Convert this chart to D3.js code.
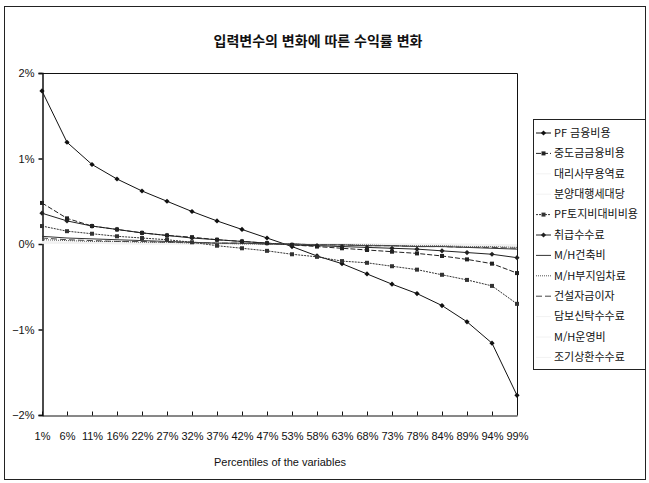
<!DOCTYPE html>
<html lang="ko">
<head>
<meta charset="UTF-8" />
<title>수익률 변화</title>
<style>
  body { margin: 0; background: #fff; }
  .chart text { fill: #111; }
</style>
</head>
<body>
<div class="chart"></div>
<script src="https://d3js.org/d3.v7.min.js"></script>
<script>
// 퍼센타일 (x 축)
const percentiles = ['1%','6%','11%','16%','22%','27%','32%','37%','42%','47%','53%','58%','63%','68%','73%','78%','84%','89%','94%','99%']
const yTicks = [0.02, 0.01, 0, -0.01, -0.02]

// 시리즈 이름
const seriesNames = ['PF 금융비용','중도금금융비용','대리사무용역료','분양대행세대당','PF토지비대비비용','취급수수료','M/H건축비','M/H부지임차료','건설자금이자','담보신탁수수료','M/H운영비','조기상환수수료']

// 값 (% 단위)
const pfFinance   = [1.79,1.19,0.93,0.76,0.62,0.50,0.38,0.27,0.17,0.07,-0.03,-0.14,-0.23,-0.35,-0.47,-0.58,-0.72,-0.91,-1.16,-1.77]
const midFinance  = [0.48,0.30,0.21,0.17,0.13,0.10,0.08,0.05,0.03,0.01,-0.01,-0.03,-0.05,-0.07,-0.09,-0.11,-0.14,-0.18,-0.23,-0.34]
const agentFee    = [0.02,0.02,0.01,0.01,0.01,0.01,0.00,0.00,0.00,0.00,0.00,0.00,0.00,0.00,-0.01,-0.01,-0.01,-0.01,-0.02,-0.02]
const salesAgent  = [0.03,0.02,0.02,0.01,0.01,0.01,0.01,0.00,0.00,0.00,0.00,0.00,-0.01,-0.01,-0.01,-0.01,-0.02,-0.02,-0.02,-0.03]
const pfLand      = [0.21,0.15,0.12,0.09,0.07,0.05,0.02,-0.02,-0.05,-0.08,-0.12,-0.15,-0.20,-0.22,-0.26,-0.30,-0.36,-0.42,-0.49,-0.70]
const handlingFee = [0.36,0.27,0.21,0.17,0.13,0.10,0.07,0.05,0.03,0.01,-0.01,-0.02,-0.03,-0.04,-0.05,-0.06,-0.08,-0.10,-0.12,-0.16]
const mhBuild     = [0.09,0.07,0.06,0.05,0.04,0.03,0.02,0.01,0.01,0.00,0.00,-0.01,-0.01,-0.02,-0.02,-0.03,-0.03,-0.04,-0.05,-0.06]
const mhLease     = [0.05,0.04,0.03,0.03,0.02,0.02,0.01,0.01,0.00,0.00,0.00,-0.01,-0.01,-0.01,-0.02,-0.02,-0.02,-0.03,-0.03,-0.04]
const constInt    = [0.07,0.05,0.04,0.03,0.03,0.02,0.02,0.01,0.01,0.00,0.00,-0.01,-0.01,-0.02,-0.02,-0.03,-0.03,-0.04,-0.04,-0.05]
const trustFee    = [0.01,0.01,0.01,0.01,0.00,0.00,0.00,0.00,0.00,0.00,0.00,0.00,0.00,0.00,0.00,0.00,0.00,-0.01,-0.01,-0.01]
const mhOperate   = [0.02,0.02,0.01,0.01,0.01,0.01,0.00,0.00,0.00,0.00,0.00,0.00,0.00,0.00,-0.01,-0.01,-0.01,-0.01,-0.01,-0.02]
const earlyRepay  = [0.01,0.01,0.01,0.00,0.00,0.00,0.00,0.00,0.00,0.00,0.00,0.00,0.00,0.00,0.00,0.00,0.00,0.00,-0.01,-0.01]

const seriesValues = [pfFinance, midFinance, agentFee, salesAgent, pfLand, handlingFee, mhBuild, mhLease, constInt, trustFee, mhOperate, earlyRepay]

// 선 스타일
const faint = '#f2f2f2'
const styles = [
  { color: '#111', dash: null,  marker: 'diamond' },
  { color: '#222', dash: '5,2', marker: 'square' },
  { color: faint, dash: null, marker: null },
  { color: faint, dash: null, marker: null },
  { color: '#333', dash: '2,1', marker: 'square' },
  { color: '#222', dash: null,  marker: 'diamond' },
  { color: '#333', dash: null,  marker: null },
  { color: '#555', dash: '1,1', marker: null },
  { color: '#444', dash: '6,3', marker: null },
  { color: faint, dash: null, marker: null },
  { color: faint, dash: null, marker: null },
  { color: faint, dash: null, marker: null }
]

const width = 649, height = 483
const plotLeft = 42, plotRight = 517, plotTop = 73, plotBottom = 415

const svg = d3.select('.chart').append('svg')
  .attr('width', width).attr('height', height)
  .style('font-family', '"Liberation Sans Narrow", "Liberation Sans", Arial, sans-serif')

// 바깥 테두리
svg.append('rect')
  .attr('x', 4.5).attr('y', 6.5).attr('width', 641).attr('height', 473)
  .attr('fill', 'none').attr('stroke', '#222').attr('stroke-width', 1)

// 제목
svg.append('text')
  .attr('x', 318).attr('y', 46)
  .attr('text-anchor', 'middle')
  .style('font-family', '"Noto Sans CJK KR", sans-serif')
  .style('font-size', '14px').style('font-weight', 'bold')
  .text('입력변수의 변화에 따른 수익률 변화')

const xScale = d3.scalePoint().domain(percentiles).range([plotLeft, plotRight])
const yScale = d3.scaleLinear().domain([-0.02, 0.02]).range([plotBottom, plotTop])

// 플롯 테두리 (위, 오른쪽)
svg.append('path')
  .attr('d', `M${plotLeft},${plotTop + 0.5}H${plotRight + 0.5}V${plotBottom}`)
  .attr('fill', 'none').attr('stroke', '#111')

// x 축
const xAxis = d3.axisBottom(xScale).tickSizeInner(-4).tickSizeOuter(0).tickPadding(17)
svg.append('g')
  .attr('transform', `translate(0, ${plotBottom + 0.5})`)
  .call(xAxis)
  .call(g => g.selectAll('text').style('font-size', '11px').attr('fill', '#111'))
  .call(g => g.selectAll('line, path').attr('stroke', '#111'))

// y 축
const yAxis = d3.axisLeft(yScale).tickValues(yTicks).tickFormat(d3.format('.0%')).tickSize(4).tickPadding(4)
svg.append('g')
  .attr('transform', `translate(${plotLeft + 0.5}, 0)`)
  .call(yAxis)
  .call(g => g.selectAll('text').style('font-size', '11px').attr('fill', '#111'))
  .call(g => g.selectAll('line, path').attr('stroke', '#111').attr('stroke-width', 1.5))

// 선
const line = d3.line()
  .x((d, i) => xScale(percentiles[i]))
  .y(d => yScale(d / 100))

const series = seriesNames.map((name, i) => ({ name, values: seriesValues[i], style: styles[i] }))

// 흐린 선을 먼저
const order = series.filter(s => s.style.color === faint).concat(series.filter(s => s.style.color !== faint))

const lines = svg.append('g')
order.forEach(s => {
  lines.append('path')
    .datum(s.values)
    .attr('d', line)
    .attr('fill', 'none')
    .attr('stroke', s.style.color)
    .attr('stroke-width', 1)
    .attr('stroke-dasharray', s.style.dash)
})

const drawMarker = (g, type, x, y, color) => {
  if (type === 'diamond') {
    g.append('path')
      .attr('d', `M${x},${y - 2.6}L${x + 2.6},${y}L${x},${y + 2.6}L${x - 2.6},${y}Z`)
      .attr('fill', color)
  } else if (type === 'square') {
    g.append('rect')
      .attr('x', x - 2).attr('y', y - 2).attr('width', 4).attr('height', 4)
      .attr('fill', color)
  }
}

const markers = svg.append('g')
series.forEach(s => {
  if (!s.style.marker) return
  s.values.forEach((v, i) => drawMarker(markers, s.style.marker, xScale(percentiles[i]), yScale(v / 100), s.style.color))
})

// x 축 제목
svg.append('text')
  .attr('x', 280).attr('y', 466)
  .attr('text-anchor', 'middle')
  .style('font-size', '11px')
  .text('Percentiles of the variables')

// 범례
const legend = svg.append('g')
legend.append('rect')
  .attr('x', 533.5).attr('y', 119.5).attr('width', 112).attr('height', 250)
  .attr('fill', 'none').attr('stroke', '#222')

series.forEach((s, i) => {
  const y = 133 + i * 20.4
  const g = legend.append('g')
  g.append('line')
    .attr('x1', 536).attr('x2', 551).attr('y1', y).attr('y2', y)
    .attr('stroke', s.style.color)
    .attr('stroke-dasharray', s.style.dash)
  drawMarker(g, s.style.marker, 543.5, y, s.style.color)
  g.append('text')
    .attr('x', 554).attr('y', y).attr('dy', '0.35em')
    .style('font-family', '"Noto Sans CJK KR", sans-serif')
    .style('font-size', '11px')
    .text(s.name)
})
</script>
</body>
</html>
